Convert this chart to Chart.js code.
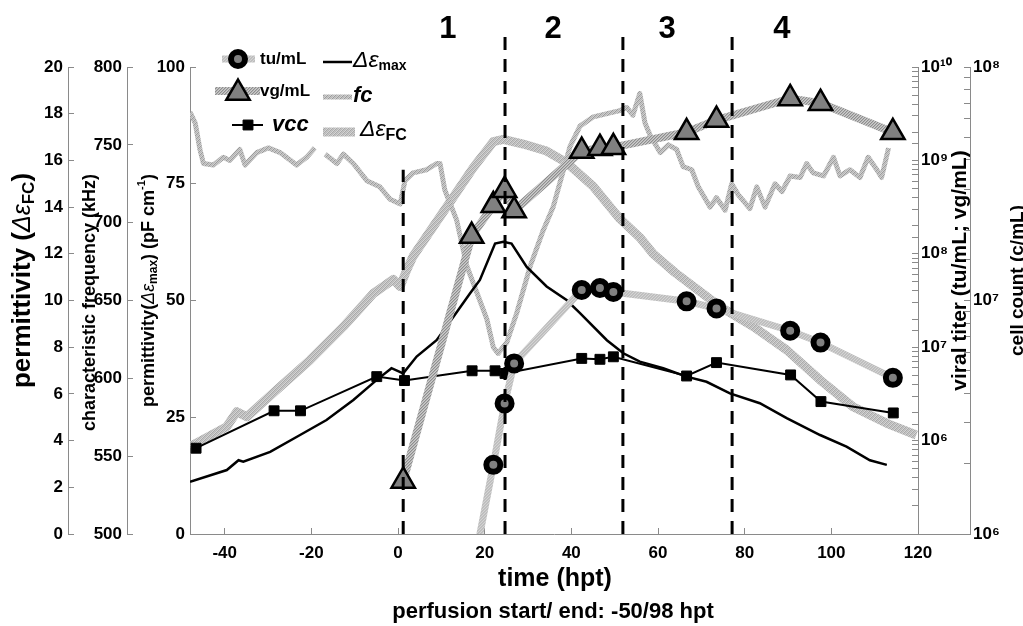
<!DOCTYPE html>
<html>
<head>
<meta charset="utf-8">
<script src="https://cdn.jsdelivr.net/npm/chart.js@4.4.0/dist/chart.umd.min.js"></script>
<style>
  html, body { margin: 0; padding: 0; background: #fff; }
  #wrap { width: 1023px; height: 626px; position: relative; }
</style>
</head>
<body>
<div id="wrap"><canvas id="chart"></canvas></div>
<script>
// sampling times (hpt) and titers
const tuTimes = [17, 22, 24.6, 26.8, 42.4, 46.6, 49.7, 66.6, 73.5, 90.5, 97.5, 114.2];
const tuValues = [3.5e4, 5.5e5, 2.5e6, 6.7e6, 4.1e7, 4.3e7, 3.9e7, 3.1e7, 2.6e7, 1.5e7, 1.12e7, 4.7e6];
const vgTimes = [1.2, 17, 22, 24.6, 26.8, 42.4, 46.6, 49.7, 66.6, 73.5, 90.5, 97.5, 114.2];
const vgValues = [3.7e5, 1.55e8, 3.3e8, 4.8e8, 2.9e8, 1.26e9, 1.35e9, 1.38e9, 2.0e9, 2.7e9, 4.6e9, 4.1e9, 2.0e9];

// viable cell count (c/mL)
const vccTimes = [-46.6, -28.6, -22.5, -4.9, 1.5, 17.1, 22.4, 24.7, 42.4, 46.6, 49.7, 66.6, 73.5, 90.6, 97.6, 114.3];
const vccValues = [2.33e6, 3.37e6, 3.37e6, 4.72e6, 4.54e6, 5.0e6, 5.0e6, 4.87e6, 5.65e6, 5.6e6, 5.74e6, 4.75e6, 5.42e6, 4.8e6, 3.69e6, 3.3e6];

// permittivity delta eps max (pF/cm)
const epsMaxTimes = [-48, -39.5, -36.8, -35.7, -29.5, -22.6, -16.5, -10.3, -4.9, -1.5, 1.2, 4.3, 8.9, 12.8, 16.6, 18.9, 22.4, 24.3, 26.2, 29.7, 34.3, 38.9, 42.0, 48.2, 52.0, 55.8, 61.2, 66.6, 71.2, 76.6, 83.5, 89.7, 97.4, 103.5, 108.9, 112.8];
const epsMaxValues = [11.2, 13.7, 15.8, 15.5, 17.6, 21.2, 24.4, 28.7, 33.0, 35.5, 34.4, 38.0, 41.5, 46.5, 51.5, 54.4, 62.2, 62.6, 62.2, 57.2, 53.0, 50.1, 47.3, 41.5, 38.7, 36.9, 35.5, 33.7, 32.6, 30.1, 28.0, 24.8, 21.2, 18.7, 15.8, 14.8];

// characteristic frequency (kHz), null = gap in record
const fcTimes = [-48.0, -46.8, -45.7, -44.9, -42.6, -40.3, -38.8, -36.5, -35.3, -32.6, -29.9, -27.2, -23.4, -21.1, -19.2, -18, -16.8, -14.1, -12.6, -10.3, -7.2, -4.2, -1.8, 0.5, 1.6, 3.5, 6.6, 8.9, 9.7, 10.8, 13.5, 15.9, 18.2, 20.5, 22.0, 23.1, 25.1, 27.4, 30.5, 33.5, 35.8, 37.8, 39.7, 42.0, 45.1, 49.7, 51.2, 52.8, 54.2, 55.8, 57.0, 58.2, 60.5, 62.4, 64.3, 65.8, 67.8, 69.3, 72.0, 73.5, 75.5, 77.0, 78.5, 81.2, 82.8, 84.7, 87.0, 88.6, 90.5, 92.8, 94.3, 95.8, 98.2, 100.5, 102.0, 104.3, 106.6, 108.5, 110.5, 111.6, 113.2];
const fcValues = [771, 764, 747, 738, 737, 742, 740, 747, 737, 745, 748, 745, 737, 742, 748, null, 744, 738, 744, 738, 727, 723, 715, 712, 727, 732, 734, 738, 738, 721, 702, 672, 655, 638, 620, 616, 623, 642, 672, 695, 710, 730, 749, 762, 768, 771, 772, 774, 769, 783, 764, 756, 745, 750, 747, 736, 734, 723, 710, 716, 708, 725, 718, 709, 723, 710, 725, 720, 730, 729, 738, 732, 730, 742, 730, 734, 729, 742, 734, 729, 748];

// permittivity at fc (delta eps FC)
const epsFcTimes = [-48, -39.5, -37.2, -34.9, -28, -20.3, -12.6, -5.7, -1.1, 0.5, 2, 3.5, 11.2, 17.4, 22, 24.3, 28.9, 34.3, 38.9, 45, 51.2, 55.8, 58.9, 63.9, 74.3, 82, 89.7, 97.4, 105, 112.8, 119.6];
const epsFcValues = [3.74, 4.6, 5.24, 5.02, 6.17, 7.45, 8.88, 10.3, 10.9, 10.6, 11.3, 11.9, 14.0, 15.7, 16.8, 16.9, 16.7, 16.4, 15.9, 14.9, 13.5, 12.7, 12.0, 11.2, 9.74, 8.88, 7.88, 6.6, 5.45, 4.74, 4.24];

// process phases (dashed lines) and their labels
const phaseTimes = [1.2, 24.7, 51.9, 77.1];
const phaseTops = [78, 106.5, 106.5, 106.5];
const phaseLabels = ['1', '2', '3', '4'];
const phaseLabelTimes = [11.5, 35.8, 62.1, 88.6];

const F = '"Liberation Sans", Arial, Helvetica, sans-serif';
const axisGray = '#8a8a8a';
const ctx = document.getElementById('chart').getContext('2d');

function stripes(colors, size) {
  const c = document.createElement('canvas');
  c.width = size; c.height = size;
  const g = c.getContext('2d');
  for (let i = 0; i < size; i++) {
    for (let j = 0; j < size; j++) {
      g.fillStyle = colors[(i + j) % colors.length];
      g.fillRect(i, j, 1, 1);
    }
  }
  return ctx.createPattern(c, 'repeat');
}

const tuLine = stripes(['#c2c2c2', '#d4d4d4', '#bcbcbc'], 3);
const vgLine = stripes(['#8e8e8e', '#b2b2b2', '#cccccc'], 3);
const fcLine = stripes(['#b4b4b4', '#d2d2d2', '#9a9a9a', '#c6c6c6'], 4);
const epsFcLine = stripes(['#a8a8a8', '#c6c6c6', '#b6b6b6', '#d6d6d6'], 4);

const pts = (xs, ys) => xs.map((x, i) => ({ x: x, y: ys[i] }));

const sup = { '0': '⁰', '1': '¹', '2': '²', '3': '³', '4': '⁴', '5': '⁵', '6': '⁶', '7': '⁷', '8': '⁸', '9': '⁹' };
function powLabel(minExp) {
  return function (v) {
    const e = Math.log10(v);
    if (Math.abs(e - Math.round(e)) > 1e-6 || Math.round(e) < minExp) return '';
    return '10' + String(Math.round(e)).split('').map(d => sup[d]).join('');
  };
}

const tickFont = { family: F, size: 17, weight: 'bold' };
function yAxis(pos, weight, width, extra) {
  return Object.assign({
    axis: 'y', position: pos, weight: weight,
    grid: { drawOnChartArea: false, tickLength: -6, color: axisGray, tickColor: axisGray },
    border: { color: axisGray, width: 1 },
    ticks: { font: tickFont, color: '#000', padding: pos === 'left' ? 11 : 9, autoSkip: false },
    afterFit: s => { s.width = width; }
  }, extra);
}

const phaseSets = phaseTimes.map((t, i) => ({
  data: [{ x: t, y: 0 }, { x: t, y: phaseTops[i] }],
  yAxisID: 'eps', borderColor: '#000', borderWidth: 3, borderDash: [13, 9],
  pointRadius: 0, clip: false
}));

// custom rich text (italic greek, sub/superscripts)
function rich(c, parts, x, y, vertical, align) {
  let w = 0;
  parts.forEach(p => { c.font = p.font; p.w = c.measureText(p.text).width; w += p.w; });
  c.save();
  c.translate(x, y);
  if (vertical) c.rotate(-Math.PI / 2);
  c.textBaseline = 'middle';
  c.textAlign = 'left';
  c.fillStyle = '#000';
  let px = align === 'left' ? 0 : -w / 2;
  parts.forEach(p => { c.font = p.font; c.fillText(p.text, px, p.dy || 0); px += p.w; });
  c.restore();
}

function marker(c, style, x, y, r, fill, stroke, lw) {
  c.beginPath();
  if (style === 'circle') {
    c.arc(x, y, r, 0, Math.PI * 2);
  } else if (style === 'triangle') {
    c.moveTo(x, y - r);
    c.lineTo(x + r * Math.sin(Math.PI / 3), y + r / 2);
    c.lineTo(x - r * Math.sin(Math.PI / 3), y + r / 2);
    c.closePath();
  } else {
    const s = r * Math.SQRT1_2;
    c.rect(x - s, y - s, 2 * s, 2 * s);
  }
  c.fillStyle = fill; c.fill();
  c.lineWidth = lw; c.strokeStyle = stroke; c.stroke();
}

function sample(c, x1, x2, y, color, width, dash) {
  c.beginPath();
  c.setLineDash(dash || []);
  c.moveTo(x1, y); c.lineTo(x2, y);
  c.strokeStyle = color; c.lineWidth = width; c.stroke();
  c.setLineDash([]);
}

const extras = {
  id: 'extras',
  afterDraw(chart) {
    const c = chart.ctx, a = chart.chartArea, s = chart.scales;
    const mid = (a.top + a.bottom) / 2;
    c.save();

    // bottom line runs on to the outer right axis
    c.beginPath();
    c.moveTo(a.right, Math.round(a.bottom) + 0.5);
    c.lineTo(s.cells.left, Math.round(a.bottom) + 0.5);
    c.strokeStyle = axisGray; c.lineWidth = 1; c.stroke();

    // phase numbers
    c.font = 'bold 31px ' + F;
    c.fillStyle = '#000'; c.textAlign = 'center'; c.textBaseline = 'middle';
    phaseLabels.forEach((l, i) => c.fillText(l, s.x.getPixelForValue(phaseLabelTimes[i]), 29));

    // axis titles
    const B = n => 'bold ' + n + 'px ' + F;
    const I = n => 'italic ' + n + 'px ' + F;
    rich(c, [
      { text: 'permittivity ', font: B(26) }, { text: '(', font: B(26) },
      { text: 'Δε', font: I(25) }, { text: 'FC', font: B(17), dy: 6 }, { text: ')', font: B(26) }
    ], s.epsFC.left + 23, mid - 20, true);
    rich(c, [{ text: 'characteristic frequency (kHz)', font: B(18) }], s.fc.left + 22, mid + 2, true);
    rich(c, [
      { text: 'permittivity', font: B(18) }, { text: '(', font: B(18) },
      { text: 'Δε', font: I(18) }, { text: 'max', font: B(12), dy: 5 }, { text: ') (pF cm', font: B(18) },
      { text: '-1', font: B(11), dy: -7 }, { text: ')', font: B(18) }
    ], s.eps.left + 22, mid - 10, true);
    rich(c, [{ text: 'viral titer (tu/mL; vg/mL)', font: B(21) }], s.titer.left + 42, mid - 30, true);
    rich(c, [{ text: 'cell count (c/mL)', font: B(19) }], s.cells.left + 48, mid - 20, true);

    const cx = (a.left + a.right) / 2;
    rich(c, [{ text: 'time (hpt)', font: B(25) }], cx + 1, a.bottom + 45, false);
    rich(c, [{ text: 'perfusion start/ end: -50/98 hpt', font: B(22) }], cx - 1, a.bottom + 78, false);

    // legend, two columns
    const L = a.left;
    const ds = chart.data.datasets;
    const tu = ds.find(d => d.key === 'tu'), vg = ds.find(d => d.key === 'vg'), vcc = ds.find(d => d.key === 'vcc');
    const em = ds.find(d => d.key === 'epsMax'), fc = ds.find(d => d.key === 'fc'), ef = ds.find(d => d.key === 'epsFC');
    sample(c, L + 32, L + 65, a.top - 8, tu.borderColor, tu.borderWidth);
    marker(c, 'circle', L + 48, a.top - 8, tu.pointRadius, tu.pointBackgroundColor, '#000', tu.pointBorderWidth);
    rich(c, [{ text: 'tu/mL', font: B(17) }], L + 70, a.top - 8, false, 'left');
    sample(c, L + 25, L + 70, a.top + 24, vg.borderColor, vg.borderWidth);
    marker(c, 'triangle', L + 48, a.top + 26, vg.pointRadius, vg.pointBackgroundColor, '#000', vg.pointBorderWidth);
    rich(c, [{ text: 'vg/mL', font: B(17) }], L + 70, a.top + 24, false, 'left');
    sample(c, L + 42, L + 73, a.top + 58, '#000', vcc.borderWidth);
    marker(c, 'rect', L + 58, a.top + 58, vcc.pointRadius, '#000', '#000', 1);
    rich(c, [{ text: 'vcc', font: 'bold italic 22px ' + F }], L + 82, a.top + 58, false, 'left');

    sample(c, L + 133, L + 162, a.top - 5, '#000', em.borderWidth);
    rich(c, [{ text: 'Δε', font: I(23) }, { text: 'max', font: B(14), dy: 5 }], L + 163, a.top - 6, false, 'left');
    sample(c, L + 133, L + 162, a.top + 30, fc.borderColor, fc.borderWidth);
    rich(c, [{ text: 'fc', font: 'bold italic 22px ' + F }], L + 163, a.top + 29, false, 'left');
    sample(c, L + 133, L + 165, a.top + 65, ef.borderColor, ef.borderWidth);
    rich(c, [{ text: 'Δε', font: I(23) }, { text: 'FC', font: B(16), dy: 6 }], L + 170, a.top + 63, false, 'left');

    c.restore();
  }
};

new Chart(ctx, {
  type: 'line',
  data: {
    datasets: phaseSets.concat([
      {
        key: 'tu', data: pts(tuTimes, tuValues), yAxisID: 'titer',
        borderColor: tuLine, borderWidth: 7,
        pointStyle: 'circle', pointRadius: 7, pointBorderWidth: 6,
        pointBackgroundColor: '#808080', pointBorderColor: '#000'
      },
      {
        key: 'vg', data: pts(vgTimes, vgValues), yAxisID: 'titer',
        borderColor: vgLine, borderWidth: 8,
        pointStyle: 'triangle', pointRadius: 13.5, pointBorderWidth: 2.5,
        pointBackgroundColor: '#808080', pointBorderColor: '#000'
      },
      {
        key: 'vcc', data: pts(vccTimes, vccValues), yAxisID: 'cells',
        borderColor: '#000', borderWidth: 2,
        pointStyle: 'rect', pointRadius: 7, pointBorderWidth: 1,
        pointBackgroundColor: '#000', pointBorderColor: '#000'
      },
      {
        key: 'epsMax', data: pts(epsMaxTimes, epsMaxValues), yAxisID: 'eps',
        borderColor: '#000', borderWidth: 2.5, pointRadius: 0
      },
      {
        key: 'fc', data: pts(fcTimes, fcValues), yAxisID: 'fc',
        borderColor: fcLine, borderWidth: 5, pointRadius: 0, borderJoinStyle: 'round'
      },
      {
        key: 'epsFC', data: pts(epsFcTimes, epsFcValues), yAxisID: 'epsFC',
        borderColor: epsFcLine, borderWidth: 9, pointRadius: 0, borderJoinStyle: 'round'
      }
    ])
  },
  options: {
    responsive: true,
    maintainAspectRatio: false,
    animation: false,
    events: [],
    layout: { padding: { top: 67, left: 0, right: 0, bottom: 0 } },
    plugins: { legend: { display: false }, tooltip: { enabled: false } },
    scales: {
      x: {
        type: 'linear', position: 'bottom', min: -48, max: 120,
        grid: { drawOnChartArea: false, tickLength: -6, color: axisGray, tickColor: axisGray },
        border: { color: axisGray, width: 1 },
        ticks: { stepSize: 20, includeBounds: false, font: tickFont, color: '#000', padding: 15, maxRotation: 0 },
        afterFit: s => { s.height = 92; }
      },
      eps: yAxis('left', 0, 63, { min: 0, max: 100, ticks: { stepSize: 25, font: tickFont, color: '#000', padding: 11 } }),
      fc: yAxis('left', 1, 59, { min: 500, max: 800, ticks: { stepSize: 50, font: tickFont, color: '#000', padding: 11 } }),
      epsFC: yAxis('left', 2, 68, { min: 0, max: 20, ticks: { stepSize: 2, font: tickFont, color: '#000', padding: 11 } }),
      titer: yAxis('right', 0, 52, {
        type: 'logarithmic', min: 1e5, max: 1e10,
        ticks: { font: tickFont, color: '#000', padding: 9, autoSkip: false, callback: powLabel(6) }
      }),
      cells: yAxis('right', 1, 53, {
        type: 'logarithmic', min: 1e6, max: 1e8,
        ticks: { font: tickFont, color: '#000', padding: 9, autoSkip: false, callback: powLabel(6) }
      })
    }
  },
  plugins: [extras]
});
</script>
</body>
</html>
